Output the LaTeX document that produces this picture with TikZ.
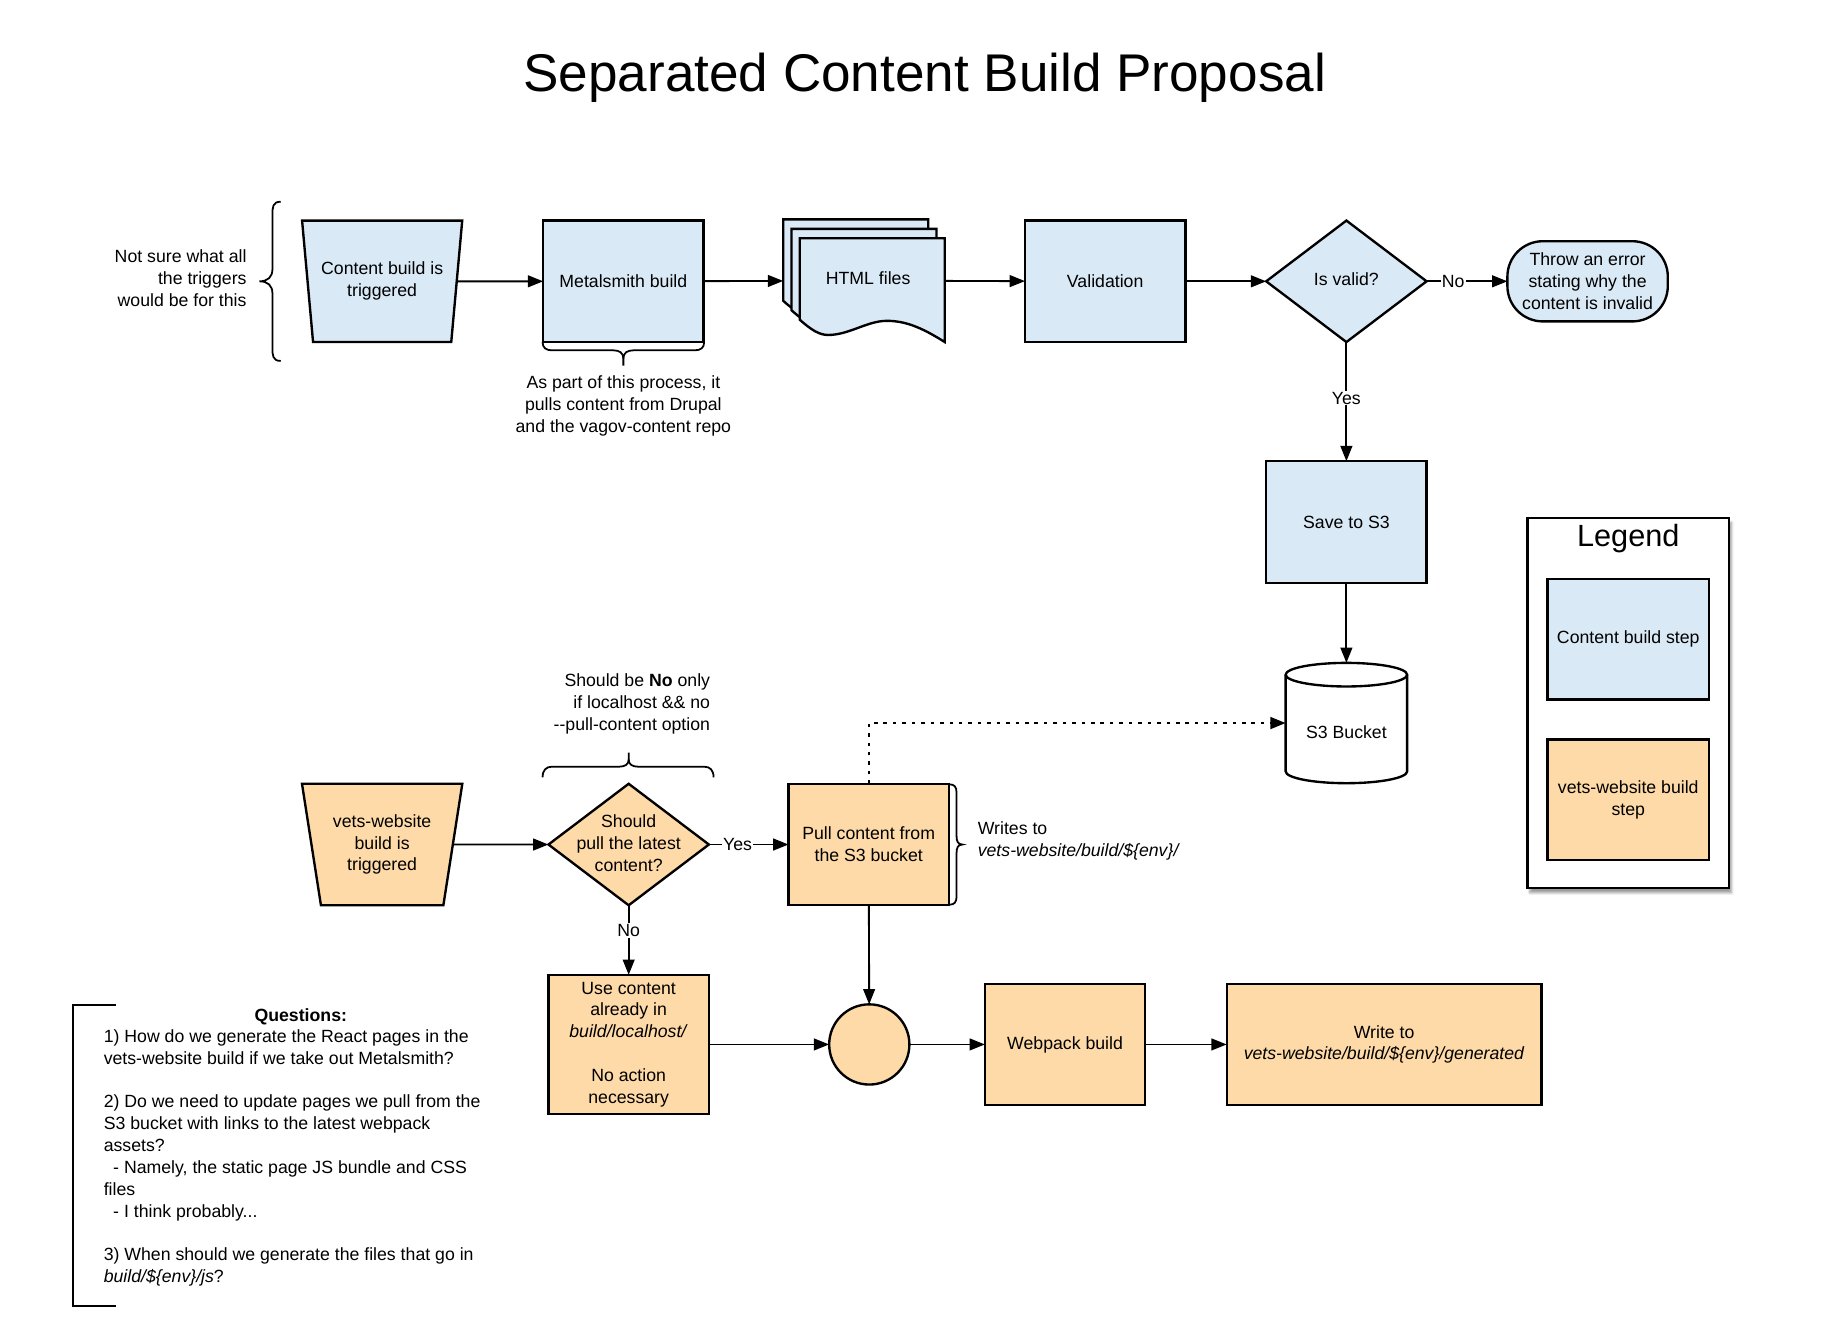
\documentclass[tikz,border=0pt]{standalone}
\usepackage{fontspec}
\setmainfont{Liberation Sans}
\usetikzlibrary{shapes.geometric,arrows.meta,shadows.blur}
\definecolor{cblue}{RGB}{218,233,246}
\definecolor{corange}{RGB}{254,218,168}
\begin{document}
\begin{tikzpicture}[x=1pt,y=-1pt,
  every node/.style={font=\fontsize{15}{18.5}\selectfont, inner sep=0pt, outer sep=0pt},
  box/.style={draw, line width=2pt, rectangle, minimum width=136pt, minimum height=103pt, align=center},
  bluebox/.style={box, fill=cblue},
  orangebox/.style={box, fill=corange},
  trap/.style={draw, line width=2pt, trapezium, shape border rotate=180, trapezium angle=75.8, trapezium stretches=true, minimum width=136pt, minimum height=103pt, align=center},
  dia/.style={draw, line width=2pt, diamond, minimum width=136pt, minimum height=103pt},
  conn/.style={line width=1.6pt, -{Triangle[length=13pt,width=10pt]}},
  bracepath/.style={line width=1.5pt},
  elabel/.style={fill=white, inner sep=1pt},
  docshape/.style={draw, line width=2pt, fill=cblue, line join=miter},
]
\useasboundingbox (0,0) rectangle (1560,1136);

% title
\node (title) at (784,66) {\fontsize{45}{54}\selectfont Separated Content Build Proposal};

% ---------- top row ----------
\node[anchor=east, align=right] (note1) at (209,236) {Not sure what all\\the triggers\\would be for this};
\draw[bracepath] (238,171) .. controls (231,171) and (231,176) .. (231,182) -- (231,228)
  .. controls (231,235) and (227,238.5) .. (220,238.5)
  .. controls (227,238.5) and (231,242) .. (231,249) -- (231,295)
  .. controls (231,301) and (231,306) .. (238,306);

\node[trap, fill=cblue] (ctrig) at (324,238.5) {Content build is\\triggered};
\node[bluebox] (meta) at (528.5,238.5) {Metalsmith build};
\draw[bracepath] (460,290) .. controls (460,295) and (463,297) .. (468,297) -- (520,297)
  .. controls (525,297) and (528.5,299) .. (528.5,304) -- (528.5,310);
\draw[bracepath] (597,290) .. controls (597,295) and (594,297) .. (589,297) -- (537,297)
  .. controls (532,297) and (528.5,299) .. (528.5,304);
\node[align=center] (note2) at (528.5,344) {As part of this process, it\\pulls content from Drupal\\and the vagov-content repo};

% HTML files (multi document)
\foreach \dx/\dy in {-14/-16,-7/-8,0/0}{
  \begin{scope}[shift={(\dx,\dy)}]
    \path[docshape] (678,202) -- (801,202) -- (801,290)
      .. controls (785,280) and (770,272) .. (752,272)
      .. controls (735,272) and (720,284) .. (702,284)
      .. controls (695,284) and (688,280) .. (678,271) -- cycle;
  \end{scope}
}
\node[minimum width=137pt, minimum height=104pt] (html) at (732.5,238) {};
\node (htmltxt) at (736,236) {HTML files};

\node[bluebox] (valid) at (937,238.5) {Validation};
\node[dia, fill=cblue] (isvalid) at (1141.5,238.5) {};
\node (isvalidt) at (1141.5,237) {Is valid?};
\node[draw, line width=2pt, fill=cblue, rounded corners=30pt, minimum width=136pt, minimum height=68pt, align=center] (throw) at (1346,238.5) {Throw an error\\stating why the\\content is invalid};
\node[bluebox] (save) at (1141.5,442.5) {Save to S3};

% S3 bucket
\node[minimum width=103pt, minimum height=102pt] (s3) at (1141.5,613) {};
\path[draw, line width=2pt, fill=white] (1090,572) -- (1090,654)
  .. controls (1090,659.5) and (1113,664) .. (1141.5,664)
  .. controls (1170,664) and (1193,659.5) .. (1193,654) -- (1193,572)
  .. controls (1193,566.5) and (1170,562) .. (1141.5,562)
  .. controls (1113,562) and (1090,566.5) .. (1090,572) -- cycle;
\draw[line width=2pt] (1090,572) .. controls (1090,577.5) and (1113,582) .. (1141.5,582)
  .. controls (1170,582) and (1193,577.5) .. (1193,572);
\node (s3t) at (1141.5,621) {S3 Bucket};

\draw[conn] (ctrig) -- (meta);
\draw[conn] (meta) -- (html);
\draw[conn] (html) -- (valid);
\draw[conn] (valid) -- (isvalid);
\draw[conn] (isvalid) -- node[elabel, pos=0.33]{No} (throw);
\draw[conn] (isvalid) -- node[elabel, pos=0.47]{Yes} (save);
\draw[conn] (save) -- (s3);

% ---------- legend ----------
\node[draw, line width=2pt, fill=white, minimum width=171pt, minimum height=314pt,
  blur shadow={shadow xshift=2pt, shadow yshift=-4pt, shadow blur steps=6}] (legend) at (1380.5,596) {};
\node (legendt) at (1380.5,457) {\fontsize{26}{30}\selectfont Legend};
\node[bluebox, minimum width=137pt, minimum height=102pt] (leg1) at (1380.5,542) {Content build step};
\node[orangebox, minimum width=137pt, minimum height=102pt] (leg2) at (1380.5,678) {vets-website build\\step};

% ---------- bottom part ----------
\node[anchor=east, align=right] (note3) at (602,597) {Should be \textbf{No} only\\if localhost \&\& no\\-{}-pull-content option};
\draw[bracepath] (460,659) .. controls (460,653) and (463,650) .. (468,650) -- (525,650)
  .. controls (530,650) and (533,648) .. (533,644) -- (533,638);
\draw[bracepath] (605,659) .. controls (605,653) and (602,650) .. (597,650) -- (541,650)
  .. controls (536,650) and (533,648) .. (533,644);

\node[trap, fill=corange] (vtrig) at (324,716) {vets-website\\build is\\triggered};
\node[dia, fill=corange] (should) at (533,716) {};
\node[align=center] (shouldt) at (533,715) {Should\\pull the latest\\content?};
\node[orangebox] (pull) at (736.5,716) {Pull content from\\the S3 bucket};
\draw[bracepath] (805,665) .. controls (809,665) and (811,667) .. (811,672) -- (811,709)
  .. controls (811,713) and (812,716) .. (816,716)
  .. controls (812,716) and (811,719) .. (811,723) -- (811,760)
  .. controls (811,765) and (809,767) .. (805,767);
\node[anchor=west, align=left] (writes) at (829,713) {Writes to\\\textit{vets-website/build/\$\{env\}/}};

\node[orangebox, minimum height=118pt] (usec) at (533,885.5) {Use content\\already in\\\textit{build/localhost/}\\[18.5pt]No action\\necessary};
\node[draw, line width=2pt, fill=corange, circle, minimum size=68pt] (join) at (737,885.5) {};
\node[orangebox] (webpack) at (903,885.5) {Webpack build};
\node[orangebox, minimum width=267pt] (writeto) at (1173.5,885.5) {Write to\\\textit{vets-website/build/\$\{env\}/generated}};

\draw[conn] (vtrig) -- (should);
\draw[conn] (should) -- node[elabel, pos=0.36]{Yes} (pull);
\draw[conn] (should) -- node[elabel, pos=0.36]{No} (usec);
\draw[conn] (usec) -- (join);
\draw[conn] (pull) -- (join);
\draw[conn] (join) -- (webpack);
\draw[conn] (webpack) -- (writeto);
\draw[line width=2pt, dash pattern=on 3pt off 5pt, -{Triangle[length=13pt,width=10pt]}] (pull.north) |- (s3.west);

% ---------- questions ----------
\draw[line width=2pt] (98,852) -- (62,852) -- (62,1107) -- (98,1107);
\node (qtitle) at (255,862) {\textbf{Questions:}};
\node[anchor=north west, align=left] (qbody) at (88,873) {1) How do we generate the React pages in the\\vets-website build if we take out Metalsmith?\\[18.5pt]2) Do we need to update pages we pull from the\\S3 bucket with links to the latest webpack\\assets?\\\hspace*{8pt}- Namely, the static page JS bundle and CSS\\files\\\hspace*{8pt}- I think probably...\\[18.5pt]3) When should we generate the files that go in\\\textit{build/\$\{env\}/js}?};
\end{tikzpicture}
\end{document}
